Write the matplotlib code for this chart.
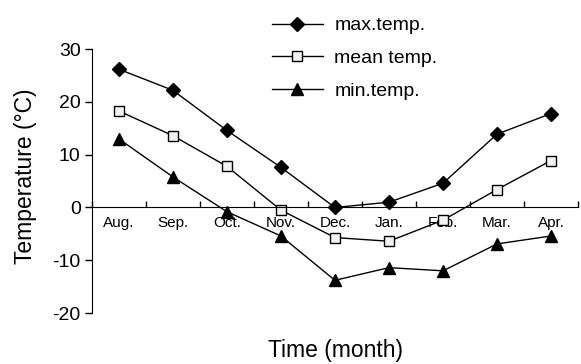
import numpy as np
import matplotlib.pyplot as plt

plt.rcParams['font.family'] = ['Liberation Sans', 'DejaVu Sans']
plt.rcParams['axes.unicode_minus'] = False

months = ['Aug.', 'Sep.', 'Oct.', 'Nov.', 'Dec.', 'Jan.', 'Feb.', 'Mar.', 'Apr.']
max_temp = [26.2, 22.2, 14.6, 7.6, 0.0, 1.0, 4.6, 13.9, 17.8]
mean_temp = [18.3, 13.6, 7.8, -0.5, -5.7, -6.4, -2.4, 3.4, 8.9]
min_temp = [13.0, 5.8, -0.8, -5.4, -13.8, -11.4, -12.0, -6.9, -5.4]

x = np.arange(len(months))

fig = plt.figure(figsize=(5.81, 3.64), dpi=100)
ax = fig.add_axes([0.158, 0.140, 0.837, 0.725])

l1, = ax.plot(x, max_temp, color='black', lw=1, marker='D', ms=7,
              mfc='black', mec='black')
l2, = ax.plot(x, mean_temp, color='black', lw=1, marker='s', ms=7.5,
              mfc='#f2f2f2', mec='black', mew=1)
l3, = ax.plot(x, min_temp, color='black', lw=1, marker='^', ms=9,
              mfc='black', mec='black')

ax.set_xlim(-0.5, len(months) - 0.5)
ax.set_ylim(-20, 30)
ax.set_yticks([-20, -10, 0, 10, 20, 30])
ax.tick_params(axis='y', labelsize=14, direction='out', length=5, width=1, pad=3)

ax.spines['top'].set_visible(False)
ax.spines['right'].set_visible(False)
ax.spines['bottom'].set_position(('data', 0))

ax.set_xticks(x)
ax.set_xticklabels(months)
ax.tick_params(axis='x', which='major', length=0, labelsize=11, pad=6)
ax.set_xticks(np.arange(len(months) + 1) - 0.5, minor=True)
ax.tick_params(axis='x', which='minor', direction='in', length=4, width=1)

ax.set_ylabel('Temperature (\u00b0C)', fontsize=16.5)
ax.yaxis.set_label_coords(-0.113, 0.52)
fig.text(0.577, 0.038, 'Time (month)', fontsize=16.5, ha='center', va='center')

fig.legend([l1, l2, l3], ['max.temp.', 'mean temp.', 'min.temp.'],
           loc='upper left', bbox_to_anchor=(0.455, 0.975), frameon=False,
           borderaxespad=0, fontsize=14, handlelength=2.6, labelspacing=0.78,
           handletextpad=0.6)

fig.savefig('out.png', dpi=100)
